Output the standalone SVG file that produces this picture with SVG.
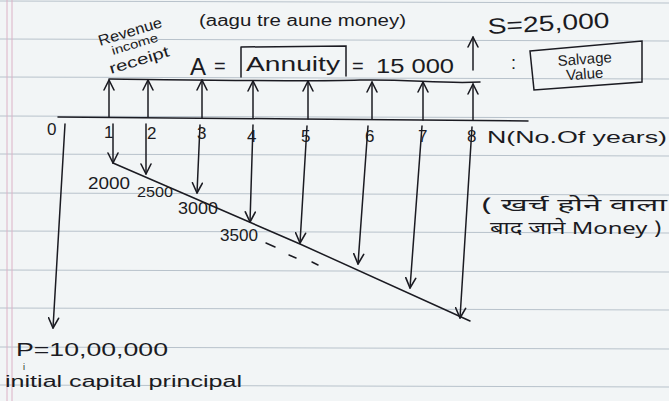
<svg xmlns="http://www.w3.org/2000/svg" width="669" height="401" viewBox="0 0 669 401">
<defs>
<marker id="head" viewBox="0 0 12 12" refX="11" refY="6" markerWidth="12" markerHeight="12" markerUnits="userSpaceOnUse" orient="auto">
<path d="M1,1 L11,6 L1,11" fill="none" stroke="#1b1b22" stroke-width="1.6" stroke-linecap="round" stroke-linejoin="round"/>
</marker>
</defs>
<style>
.ink{fill:none;stroke:#1b1b22;stroke-width:1.5;stroke-linecap:round}
.arr{fill:none;stroke:#1b1b22;stroke-width:1.5;stroke-linecap:round;marker-end:url(#head)}
.rule{stroke:#b8c2cb;stroke-width:1}
.margin{stroke:#dcb2c6;stroke-width:1}
text{font-family:"Liberation Sans","DejaVu Sans",sans-serif;fill:#1b1b22}
.hi{font-family:"Noto Sans Devanagari","Noto Sans","DejaVu Sans","Liberation Sans",sans-serif}
.n{font-size:17px}
</style>
<rect x="0" y="0" width="669" height="401" fill="#f2f5f6"/>
<g id="paper">
<line class="rule" x1="0" y1="1" x2="669" y2="3"/>
<line class="rule" x1="0" y1="39" x2="669" y2="41"/>
<line class="rule" x1="0" y1="77" x2="669" y2="79"/>
<line class="rule" x1="0" y1="116" x2="669" y2="118"/>
<line class="rule" x1="0" y1="154" x2="669" y2="156"/>
<line class="rule" x1="0" y1="193" x2="669" y2="195"/>
<line class="rule" x1="0" y1="231" x2="669" y2="233"/>
<line class="rule" x1="0" y1="270" x2="669" y2="272"/>
<line class="rule" x1="0" y1="308" x2="669" y2="310"/>
<line class="rule" x1="0" y1="347" x2="669" y2="349"/>
<line class="rule" x1="0" y1="385" x2="669" y2="387"/>
<line class="margin" x1="7" y1="0" x2="7" y2="401"/>
<line class="margin" x1="12" y1="0" x2="12" y2="401"/>
</g>
<g id="connectors">
<path class="ink" d="M58,117 L300,119 L528,121"/>
<path class="ink" d="M109,79 C200,80 300,82 360,80 C410,79 440,84 480,82"/>
<path class="ink" d="M113,163 L300,244 L470,321"/>
<line class="arr" x1="109" y1="117" x2="109" y2="80"/>
<line class="arr" x1="148" y1="117" x2="148" y2="80"/>
<line class="arr" x1="202" y1="118" x2="202" y2="80"/>
<line class="arr" x1="253" y1="118" x2="253" y2="81"/>
<line class="arr" x1="308" y1="119" x2="308" y2="81"/>
<line class="arr" x1="372" y1="119" x2="372" y2="82"/>
<line class="arr" x1="423" y1="120" x2="423" y2="82"/>
<line class="arr" x1="473" y1="120" x2="473" y2="84"/>
<line class="arr" x1="473" y1="70" x2="473" y2="37"/>
<line class="arr" x1="65" y1="124" x2="53" y2="328"/>
<line class="arr" x1="113" y1="124" x2="113" y2="163"/>
<line class="arr" x1="146" y1="124" x2="146" y2="174"/>
<line class="arr" x1="200" y1="125" x2="197" y2="193"/>
<line class="arr" x1="253" y1="125" x2="250" y2="222"/>
<line class="arr" x1="307" y1="126" x2="300" y2="243"/>
<line class="arr" x1="368" y1="126" x2="358" y2="264"/>
<line class="arr" x1="422" y1="126" x2="410" y2="288"/>
<line class="arr" x1="472" y1="127" x2="460" y2="318"/>
<path class="ink" d="M266,243 L275,247 M289,255 L296,258 M312,262 L318,265"/>
</g>
<g id="axis-labels">
<text class="n" x="47" y="135">0</text>
<text class="n" x="104" y="138">1</text>
<text class="n" x="147" y="139">2</text>
<text class="n" x="197" y="139">3</text>
<text class="n" x="247" y="142">4</text>
<text class="n" x="301" y="142">5</text>
<text class="n" x="365" y="142">6</text>
<text class="n" x="418" y="142">7</text>
<text class="n" x="467" y="142">8</text>
<text class="n" x="487" y="143" textLength="180" lengthAdjust="spacingAndGlyphs">N(No.Of years)</text>
</g>
<g id="revenue-label">
<text transform="translate(100,46) rotate(-17)" font-size="15" textLength="66" lengthAdjust="spacingAndGlyphs">Revenue</text>
<text transform="translate(113,55) rotate(-17)" font-size="12" textLength="48" lengthAdjust="spacingAndGlyphs">income</text>
<text transform="translate(111,74) rotate(-17)" font-size="15" textLength="62" lengthAdjust="spacingAndGlyphs">receipt</text>
</g>
<g id="incoming-note">
<text x="199" y="26" font-size="16" textLength="207" lengthAdjust="spacingAndGlyphs">(aagu tre aune money)</text>
</g>
<g id="annuity">
<text x="190" y="75" font-size="24">A</text>
<text x="214" y="73" font-size="20">=</text>
<path class="ink" d="M241,47 L346,46 L346,76 M241,47 L241,77"/>
<text x="246" y="71" font-size="21" textLength="94" lengthAdjust="spacingAndGlyphs">Annuity</text>
<text x="352" y="73" font-size="20">=</text>
<text x="376" y="73" font-size="20" textLength="78" lengthAdjust="spacingAndGlyphs">15 000</text>
</g>
<g id="salvage">
<text transform="translate(488,34) rotate(-3)" font-size="22" textLength="122" lengthAdjust="spacingAndGlyphs">S=25,000</text>
<text x="511" y="69" font-size="18">:</text>
<path class="ink" d="M530,51 L642,41 L642,82 L534,90 Z"/>
<text x="585" y="64" font-size="15" text-anchor="middle" transform="rotate(-4,585,64)">Salvage</text>
<text x="585" y="79" font-size="15" text-anchor="middle" transform="rotate(-4,585,79)">Value</text>
</g>
<g id="outflow-values">
<text x="88" y="189" font-size="17" textLength="42" lengthAdjust="spacingAndGlyphs">2000</text>
<text x="137" y="197" font-size="15" textLength="36" lengthAdjust="spacingAndGlyphs">2500</text>
<text x="178" y="214" font-size="17" textLength="40" lengthAdjust="spacingAndGlyphs">3000</text>
<text x="220" y="241" font-size="16" textLength="38" lengthAdjust="spacingAndGlyphs">3500</text>
</g>
<g id="outgoing-note">
<text class="hi" x="481" y="211" font-size="17" textLength="186" lengthAdjust="spacingAndGlyphs">( खर्च होने वाला</text>
<text class="hi" x="490" y="234" font-size="17" textLength="172" lengthAdjust="spacingAndGlyphs">बाद जाने Money )</text>
</g>
<g id="principal">
<text x="16" y="356" font-size="19" textLength="152" lengthAdjust="spacingAndGlyphs">P=10,00,000</text>
<text x="23" y="370" font-size="9">i</text>
<text x="5" y="387" font-size="16" textLength="237" lengthAdjust="spacingAndGlyphs">initial capital principal</text>
</g>
</svg>
